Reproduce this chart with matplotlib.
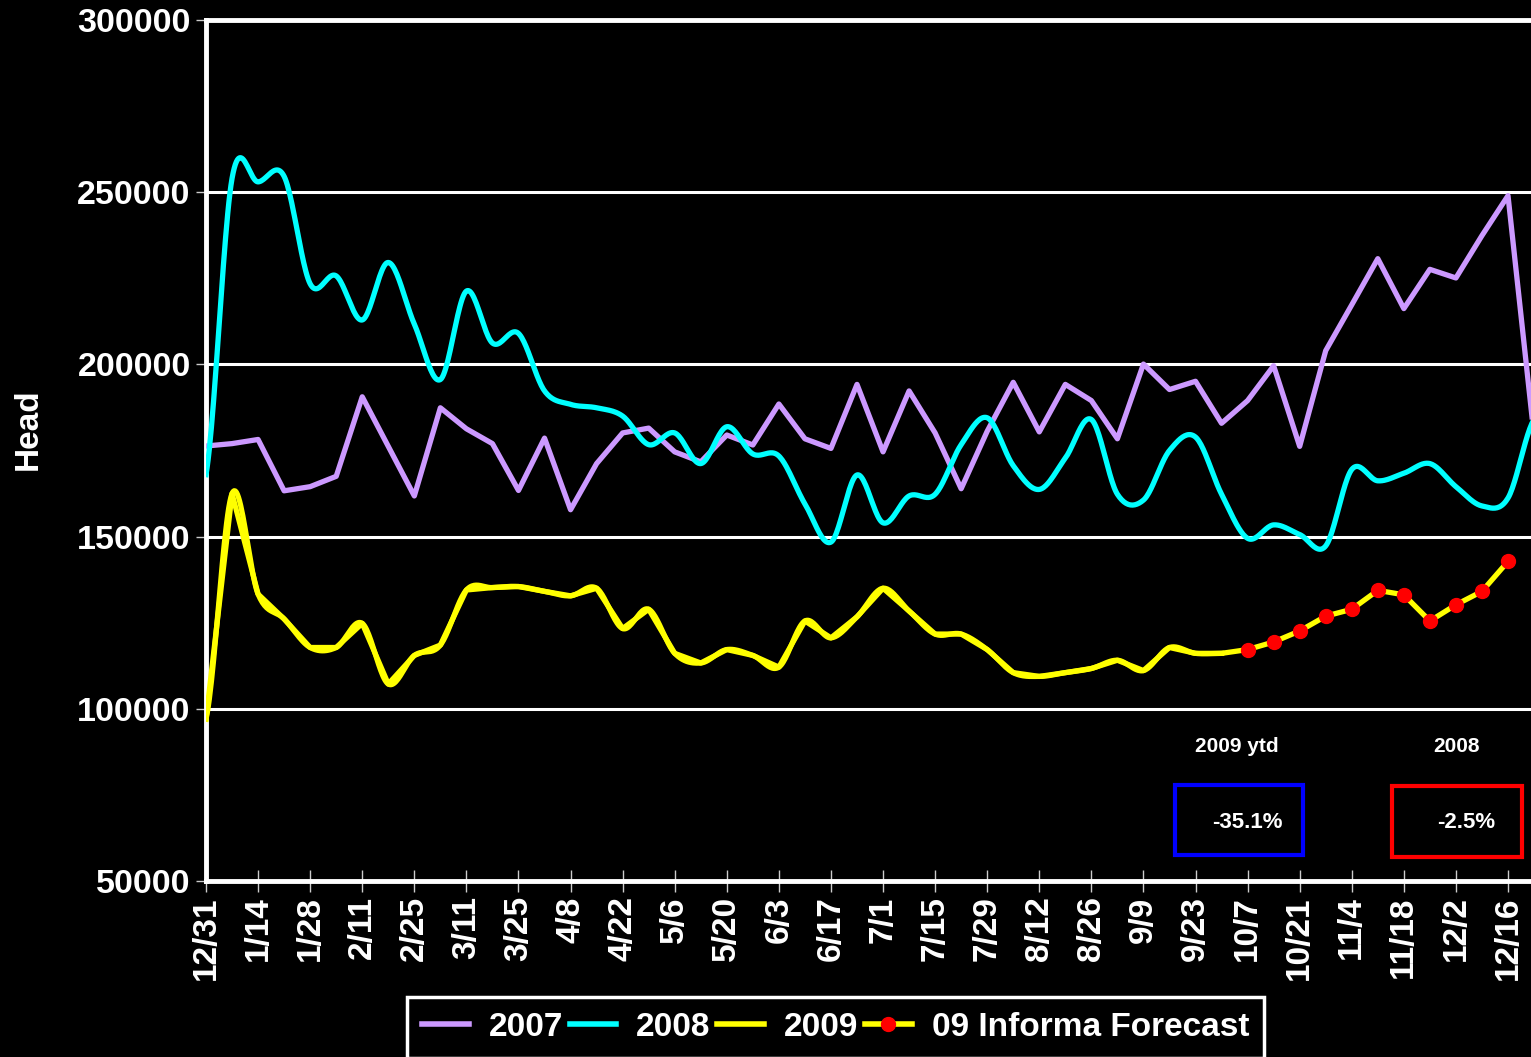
import matplotlib
matplotlib.use('Agg')
import numpy as np
import matplotlib.pyplot as plt
from matplotlib.lines import Line2D
from matplotlib.patches import Rectangle

# data, weekly values
x_labels = ['12/31', '1/14', '1/28', '2/11', '2/25', '3/11', '3/25', '4/8', '4/22',
            '5/6', '5/20', '6/3', '6/17', '7/1', '7/15', '7/29', '8/12', '8/26',
            '9/9', '9/23', '10/7', '10/21', '11/4', '11/18', '12/2', '12/16']

y2007 = [176300, 177000, 178200, 163300, 164500, 167500, 190600, 176200, 161800, 187400,
         181300, 177000, 163400, 178600, 157800, 171200, 180100, 181500, 174600, 171700,
         179500, 176600, 188500, 178400, 175600, 194200, 174600, 192300, 180100, 163900,
         180600, 194800, 180400, 194200, 189500, 178400, 200100, 192700, 195100, 182900,
         189500, 199600, 176200, 204000, 217300, 230700, 216200, 227600, 225100, 237400,
         249000, 179300]

y2008 = [168000, 254000, 253000, 254600, 223400, 225700, 212900, 229600, 211700, 195600,
         221300, 206200, 209000, 192300, 188400, 187400, 185000, 176700, 180100, 171200,
         181900, 174000, 173400, 159500, 148400, 167900, 154000, 161800, 162300, 176700,
         184500, 170600, 163700, 172800, 184000, 162300, 160600, 175000, 178900, 162300,
         149500, 153400, 150600, 147300, 169500, 166200, 168400, 171200, 164500, 158900,
         161200, 184000]

y2009 = [97000, 162500, 133300, 126100, 117800, 117800, 124800, 107200, 115500, 118500,
         134500, 135200, 135500, 134100, 132800, 135000, 123300, 128900, 116100, 113300,
         117200, 115500, 112100, 125500, 120600, 126700, 135000, 128400, 121700, 121700,
         117200, 110500, 109400, 110500, 111700, 114100, 111100, 117800, 116100, 116100]

forecast = [117200, 119400, 122600, 126900, 128900, 134400, 133100, 125500, 130200,
            134100, 142800]


def smooth(y, n=24):
    # excel style smoothed line (catmull-rom through the points)
    p = np.asarray(y, dtype=float)
    p = np.concatenate([[p[0]], p, [p[-1]]])
    xs, ys = [], []
    t = np.linspace(0, 1, n, endpoint=False)
    for i in range(1, len(p) - 2):
        p0, p1, p2, p3 = p[i - 1], p[i], p[i + 1], p[i + 2]
        v = 0.5 * (2 * p1 + (-p0 + p2) * t + (2 * p0 - 5 * p1 + 4 * p2 - p3) * t ** 2
                   + (-p0 + 3 * p1 - 3 * p2 + p3) * t ** 3)
        xs.extend(i - 1 + t)
        ys.extend(v)
    xs.append(len(p) - 3)
    ys.append(p[-2])
    return np.array(xs), np.array(ys)


W, H = 1531, 1057
plt.rcParams['font.family'] = ['Liberation Sans', 'DejaVu Sans']
plt.rcParams['font.weight'] = 'bold'

fig = plt.figure(figsize=(W / 100, H / 100), dpi=100, facecolor='black')
ax = fig.add_axes([206 / W, 1 - 881 / H, 51 * 26.04 / W, 861 / H])
ax.set_facecolor('black')

purple = '#CC99FF'
cyan = '#00FFFF'
yellow = '#FFFF00'

# gridlines
for g in [100000, 150000, 200000, 250000]:
    ax.axhline(g, color='white', lw=2.2, zorder=1)

ax.plot(range(len(y2007)), y2007, color=purple, lw=3.8, zorder=3)
sx, sy = smooth(y2008)
ax.plot(sx, sy, color=cyan, lw=3.8, zorder=3)

# forecast series: actual 2009 + forecast, straight segments, dots on forecast
full = y2009 + forecast
ax.plot(range(len(full)), full, color=yellow, lw=3.8, zorder=4,
        marker='o', markersize=10, markerfacecolor='red', markeredgecolor='red',
        markevery=list(range(len(y2009), len(full))))
sx, sy = smooth(y2009)
ax.plot(sx, sy, color=yellow, lw=3.8, zorder=4)

ax.set_xlim(0, 51)
ax.set_ylim(50000, 300000)
ax.set_xticks(range(0, 2 * len(x_labels), 2))
ax.set_xticklabels(x_labels, rotation=90, fontsize=24, fontweight='bold', color='white')
ax.set_yticks([50000, 100000, 150000, 200000, 250000, 300000])
ax.set_yticklabels(['50000', '100000', '150000', '200000', '250000', '300000'],
                   fontsize=24.5, fontweight='bold', color='white')
ax.tick_params(axis='x', direction='inout', length=16, width=1, color='#cccccc', pad=3)
ax.tick_params(axis='y', direction='out', length=7, width=1, color='#cccccc', pad=4)

for s in ['left', 'bottom', 'top']:
    ax.spines[s].set_color('white')
    ax.spines[s].set_linewidth(3.5)
ax.spines['right'].set_visible(False)

fig.text(28 / W, 1 - 429 / H, 'Head', rotation=90, ha='center', va='center',
         fontsize=24, fontweight='bold', color='white')

# legend
handles = [Line2D([], [], color=purple, lw=4),
           Line2D([], [], color=cyan, lw=4),
           Line2D([], [], color=yellow, lw=4),
           Line2D([], [], color=yellow, lw=4, marker='o', markersize=10,
                  markerfacecolor='red', markeredgecolor='red')]
leg = ax.legend(handles, ['2007', '2008', '2009', '09 Informa Forecast'],
                loc='upper left', bbox_to_anchor=(407 / W, 1 - 997 / H),
                bbox_transform=fig.transFigure, ncol=4, fancybox=False,
                facecolor='black', edgecolor='white', framealpha=1,
                prop={'size': 24, 'weight': 'bold'}, borderaxespad=0,
                handlelength=1.4, handletextpad=0.6, columnspacing=0.2,
                borderpad=0.45)
leg.get_frame().set_linewidth(2.5)
for t in leg.get_texts():
    t.set_color('white')

# change boxes
fig.text(1237 / W, 1 - 747 / H, '2009 ytd', ha='center', va='center',
         fontsize=15, fontweight='bold', color='white')
fig.text(1457 / W, 1 - 747 / H, '2008', ha='center', va='center',
         fontsize=15, fontweight='bold', color='white')
fig.patches.append(Rectangle((1175 / W, 1 - 855 / H), 128 / W, 70 / H, fill=False,
                             edgecolor='blue', lw=3, transform=fig.transFigure))
fig.patches.append(Rectangle((1392 / W, 1 - 857 / H), 130 / W, 71 / H, fill=False,
                             edgecolor='red', lw=3, transform=fig.transFigure))
fig.text(1247 / W, 1 - 822 / H, '-35.1%', ha='center', va='center',
         fontsize=16, fontweight='bold', color='white')
fig.text(1466 / W, 1 - 823 / H, '-2.5%', ha='center', va='center',
         fontsize=16, fontweight='bold', color='white')

fig.savefig('out.png', dpi=100, facecolor='black')
